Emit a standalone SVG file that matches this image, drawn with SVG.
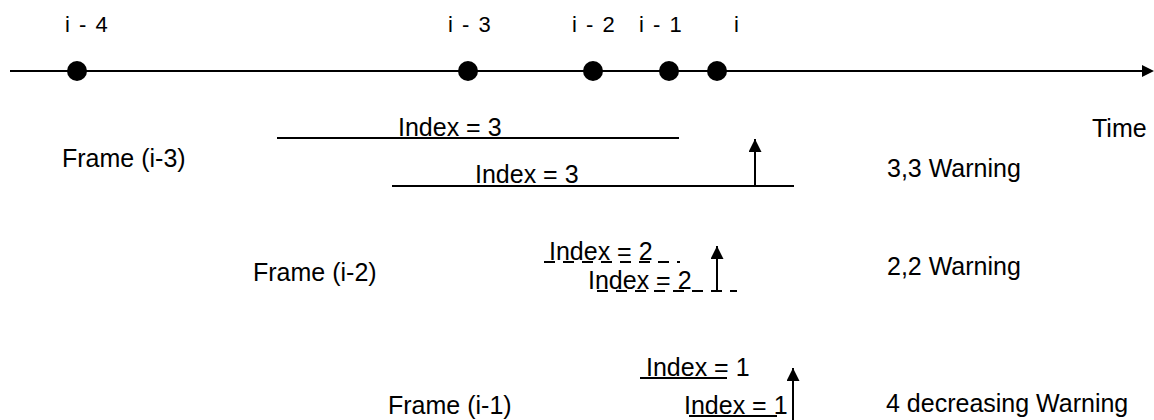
<svg xmlns="http://www.w3.org/2000/svg" width="1154" height="420" viewBox="0 0 1154 420">
  <style>
    text { font-family: "Liberation Sans", Arial, Helvetica, sans-serif; fill: #000; }
    .lbl { font-size: 25px; }
    .tick { font-size: 22px; word-spacing: 3px; }
    .ln { stroke: #000; stroke-width: 2; fill: none; }
    .dash { stroke: #000; stroke-width: 2; fill: none; stroke-dasharray: 11 8; }
    .dot { fill: #000; }
  </style>
  <defs>
    <marker id="head" viewBox="0 0 10 10" refX="10" refY="5" markerWidth="7" markerHeight="6.5" markerUnits="strokeWidth" orient="auto">
      <path d="M0,0 L10,5 L0,10 Z" fill="#000"/>
    </marker>
  </defs>

  <rect width="1154" height="420" fill="#fff"/>

  <!-- time axis -->
  <g id="time-axis">
    <line class="ln" x1="10" y1="71" x2="1143" y2="71"/>
    <path d="M1142,65 L1154,71 L1142,77 Z" fill="#000"/>
    <text class="lbl" x="1092" y="137">Time</text>
  </g>

  <!-- sample points on the axis -->
  <g id="point-i-4"><circle class="dot" cx="77" cy="71" r="10"/><text class="tick" x="65" y="32">i - 4</text></g>
  <g id="point-i-3"><circle class="dot" cx="468" cy="71" r="10"/><text class="tick" x="448" y="32">i - 3</text></g>
  <g id="point-i-2"><circle class="dot" cx="593" cy="71" r="10"/><text class="tick" x="572" y="32">i - 2</text></g>
  <g id="point-i-1"><circle class="dot" cx="669" cy="71" r="10"/><text class="tick" x="639" y="32">i - 1</text></g>
  <g id="point-i"><circle class="dot" cx="717" cy="71" r="10"/><text class="tick" x="734" y="32">i</text></g>

  <!-- frame i-3 : index 3 -->
  <g id="frame-i-3">
    <text class="lbl" x="62" y="167">Frame (i-3)</text>
    <line class="ln" x1="277" y1="138" x2="679" y2="138"/>
    <text class="lbl" x="398" y="136">Index = 3</text>
    <line class="ln" x1="392" y1="186" x2="794" y2="186"/>
    <text class="lbl" x="475" y="183">Index = 3</text>
    <text class="lbl" x="887" y="177">3,3 Warning</text>
  </g>

  <!-- frame i-2 : index 2 -->
  <g id="frame-i-2">
    <text class="lbl" x="253" y="281">Frame (i-2)</text>
    <line class="dash" x1="544" y1="262" x2="680" y2="262"/>
    <text class="lbl" x="549" y="260">Index = 2</text>
    <line class="dash" x1="597" y1="291" x2="737" y2="291"/>
    <text class="lbl" x="588" y="289">Index = 2</text>
    <text class="lbl" x="887" y="275">2,2 Warning</text>
  </g>

  <!-- frame i-1 : index 1 -->
  <g id="frame-i-1">
    <text class="lbl" x="388" y="414">Frame (i-1)</text>
    <line class="ln" x1="640" y1="378" x2="727" y2="378"/>
    <text class="lbl" x="646" y="376">Index = 1</text>
    <line class="ln" x1="689" y1="416" x2="777" y2="416"/>
    <text class="lbl" x="684" y="414">Index = 1</text>
    <text class="lbl" x="886" y="412">4 decreasing Warning</text>
  </g>

  <!-- warning markers -->
  <g id="connectors">
    <line class="ln" x1="755" y1="186" x2="755" y2="139" marker-end="url(#head)"/>
    <line class="ln" x1="717" y1="291" x2="717" y2="246" marker-end="url(#head)"/>
    <line class="ln" x1="793" y1="420" x2="793" y2="368" marker-end="url(#head)"/>
  </g>
</svg>
